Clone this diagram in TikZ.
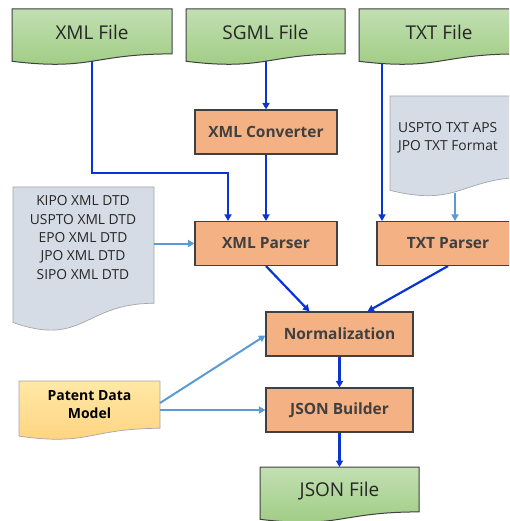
\documentclass[tikz,border=0pt]{standalone}
\usepackage{fontspec}
\setmainfont{Open Sans}
\usetikzlibrary{arrows.meta,calc}
\definecolor{greentop}{HTML}{C2DFB2}
\definecolor{greenbot}{HTML}{9DCB80}
\definecolor{yellowtop}{HTML}{FFE8A6}
\definecolor{yellowbot}{HTML}{FFD27E}
\definecolor{docgray}{HTML}{D6DCE5}
\definecolor{docedge}{HTML}{A6A6A6}
\definecolor{procfill}{HTML}{F4B183}
\definecolor{edgegray}{HTML}{404040}
\definecolor{darkblue}{HTML}{0A35D2}
\definecolor{lightblue}{HTML}{5B9BD5}
\definecolor{txtgray}{HTML}{262626}

% document outline: left x, right x, top y, full height (wavy bottom edge)
\newcommand\docpath[4]{%
  (#1,#3) -- (#2,#3) -- (#2,{#3+0.802*#4})
  .. controls ({(#1+#2)/2},{#3+0.802*#4}) and ({(#1+#2)/2},{#3+1.107*#4})
  .. (#1,{#3+0.934*#4}) -- cycle}

\begin{document}
\begin{tikzpicture}[x=1pt,y=-1pt,
  filedoc/.style={draw=edgegray,line width=1pt,top color=greentop,bottom color=greenbot},
  graydoc/.style={draw=docedge,line width=0.7pt,fill=docgray},
  modeldoc/.style={draw=docedge,line width=0.7pt,top color=yellowtop,bottom color=yellowbot},
  filelabel/.style={font=\fontsize{19}{22}\selectfont,text=txtgray,inner sep=0pt},
  proc/.style={draw=edgegray,line width=1.1pt,fill=procfill,minimum height=44pt,
    font=\bfseries\fontsize{15.5}{18}\selectfont,text=edgegray,inner sep=0pt},
  listtext/.style={font=\fontsize{13.8}{18.3}\selectfont,text=txtgray,inner sep=0pt},
  flow/.style={draw=darkblue,line width=2.2pt,-{Triangle[length=6.5pt,width=7pt]}},
  aux/.style={draw=lightblue,line width=2pt,-{Triangle[length=6.5pt,width=7pt]}}]
\clip (0,0) rectangle (509,521);
\fill[white] (0,0) rectangle (509,521);

% input files
\path[filedoc] \docpath{12}{172}{9}{56};
\node[filelabel] (xmlfile) at (92,32) {XML File};
\coordinate (xmlfileb) at (92,61);
\path[filedoc] \docpath{186}{345}{9}{56};
\node[filelabel] (sgmlfile) at (265.5,32) {SGML File};
\coordinate (sgmlfileb) at (266,61);
\path[filedoc] \docpath{359}{519}{9}{56};
\node[filelabel] (txtfile) at (439,32) {TXT File};
\coordinate (txtfileb) at (382,63);

% format definitions
\path[graydoc] \docpath{390}{531}{96}{101};
\node[listtext,align=left,anchor=west] (txtfmt) at (398,138) {USPTO TXT APS\\JPO TXT Format};
\coordinate (txtfmtb) at (455,193);
\path[graydoc] \docpath{13}{154}{187}{145};
\node[listtext,align=center] (dtds) at (83,237.5) {KIPO XML DTD\\USPTO XML DTD\\EPO XML DTD\\JPO XML DTD\\SIPO XML DTD};
\coordinate (dtdsr) at (154,243.5);

% data model
\path[modeldoc] \docpath{19}{160}{381}{59};
\node[align=center,inner sep=0pt,font=\bfseries\fontsize{14}{18}\selectfont] (model) at (89.5,405) {Patent Data\\Model};
\coordinate (modelr1) at (160,403);
\coordinate (modelr2) at (160,410);

% processing steps
\node[proc,minimum width=142pt] (conv) at (266,132) {XML Converter};
\node[proc,minimum width=142pt] (xmlparser) at (266,243.5) {XML Parser};
\node[proc,minimum width=142pt] (txtparser) at (448,243.5) {TXT Parser};
\node[proc,minimum width=147pt] (norm) at (339.5,334) {Normalization};
\node[proc,minimum width=147pt] (jsonb) at (339.5,410) {JSON Builder};

% output file
\path[filedoc] \docpath{260}{419}{467}{56};
\node[filelabel] (jsonfile) at (339.5,491) {JSON File};
\coordinate (jsonfilet) at (339.5,467);

% connectors
\coordinate (xmlbend) at (228,173);
\draw[flow] (xmlfileb) |- (xmlbend) -- (xmlbend |- xmlparser.north);
\draw[flow] (sgmlfileb) -- (conv.north);
\draw[flow] (conv.south) -- (xmlparser.north);
\draw[flow] (txtfileb) -- (txtfileb |- txtparser.north);
\draw[aux] (txtfmtb) -- (txtfmtb |- txtparser.north);
\draw[aux] (dtdsr) -- (xmlparser.west);
\draw[flow] (xmlparser.south) -- ($(norm.north west)+(44,0)$);
\draw[flow] (txtparser.south) -- ($(norm.north west)+(102,0)$);
\draw[flow] (norm.south) -- (jsonb.north);
\draw[flow] (jsonb.south) -- (jsonfilet);
\draw[aux] (modelr1) -- ($(norm.north west)+(0,24)$);
\draw[aux] (modelr2) -- (jsonb.west);
\end{tikzpicture}
\end{document}
